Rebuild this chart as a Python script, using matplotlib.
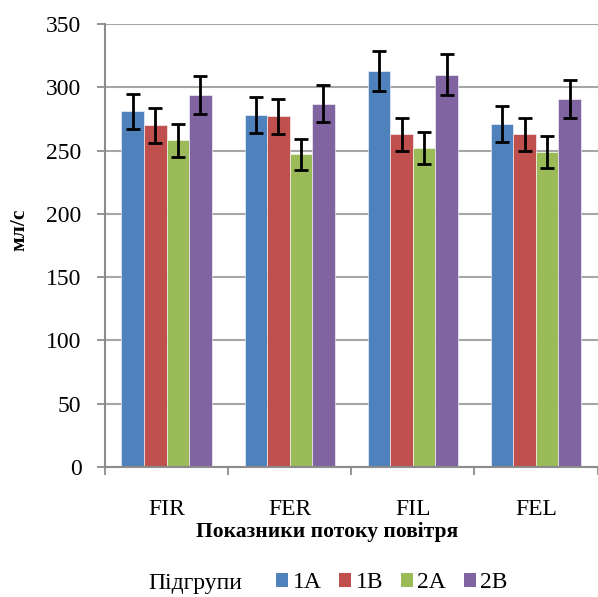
import matplotlib
matplotlib.use("Agg")
import matplotlib.pyplot as plt
import numpy as np
from matplotlib.patches import Patch

categories = ["FIR", "FER", "FIL", "FEL"]
series_names = ["1A", "1B", "2A", "2B"]
values_1A = [281, 278, 313, 271]
values_1B = [270, 277, 263, 263]
values_2A = [258, 247, 252, 249]
values_2B = [294, 287, 310, 291]
err_1A = [14, 14, 16, 14]
err_1B = [14, 14, 13, 13]
err_2A = [13, 12.5, 13, 12.5]
err_2B = [15, 14.5, 16, 15]
y_ticks = [0, 50, 100, 150, 200, 250, 300, 350]

colors = ["#4F81BD", "#C0504D", "#9BBB59", "#8064A2"]
series_vals = [values_1A, values_1B, values_2A, values_2B]
series_errs = [err_1A, err_1B, err_2A, err_2B]

plt.rcParams['font.family'] = ['Liberation Serif', 'DejaVu Serif']

fig = plt.figure(figsize=(5.98, 5.97), dpi=100)
ax = fig.add_axes([105/598, 1-467/597, (597.5-105)/598, (467-24)/597])

x = np.arange(len(categories))
bw = 0.183
for i, (vals, errs, c) in enumerate(zip(series_vals, series_errs, colors)):
    pos = x + (i - 1.5) * bw
    ax.bar(pos, vals, width=bw, color=c, edgecolor="white", linewidth=0.4, zorder=2)
    ax.errorbar(pos, vals, yerr=errs, fmt="none", ecolor="black", elinewidth=2,
                capsize=5, capthick=2, zorder=3)

ax.set_xlim(-0.5, len(categories) - 0.5)
ax.set_ylim(0, 350)
ax.set_yticks(y_ticks)
ax.set_xticks(x)
ax.set_xticklabels(categories, fontsize=17)
ax.set_xticks(np.arange(-0.5, len(categories), 1), minor=True)
ax.tick_params(axis="x", which="major", length=0, pad=23)
ax.tick_params(axis="x", which="minor", length=6, width=1.3, color="#8C8C8C")
ax.tick_params(axis="y", length=6, width=1.3, color="#8C8C8C", labelsize=17, pad=11)
ax.grid(axis="y", color="#A6A6A6", linewidth=1.5, zorder=0)
ax.set_axisbelow(True)
for s in ["top", "right"]:
    ax.spines[s].set_visible(False)
for s in ["left", "bottom"]:
    ax.spines[s].set_color("#8C8C8C")
    ax.spines[s].set_linewidth(1.5)

fig.text(19/598, 1-230/597, "мл/с", fontsize=15.5, fontweight="bold", rotation=90,
         ha="center", va="center")
fig.text(327/598, 1-532/597, "Показники потоку повітря", fontsize=15.5, fontweight="bold",
         ha="center", va="center")

fig.text(148/598, 1-583/597, "Підгрупи", fontsize=17, va="center", ha="left")
handles = [Patch(facecolor=c, edgecolor="none") for c in colors]
fig.legend(handles, series_names, loc="center left", bbox_to_anchor=(276/598, 1-583/597),
           ncol=4, frameon=False, fontsize=17, handlelength=0.5, handleheight=0.5,
           handletextpad=0.2, columnspacing=0.75, borderpad=0, borderaxespad=0)

fig.savefig("out.png", dpi=100)
